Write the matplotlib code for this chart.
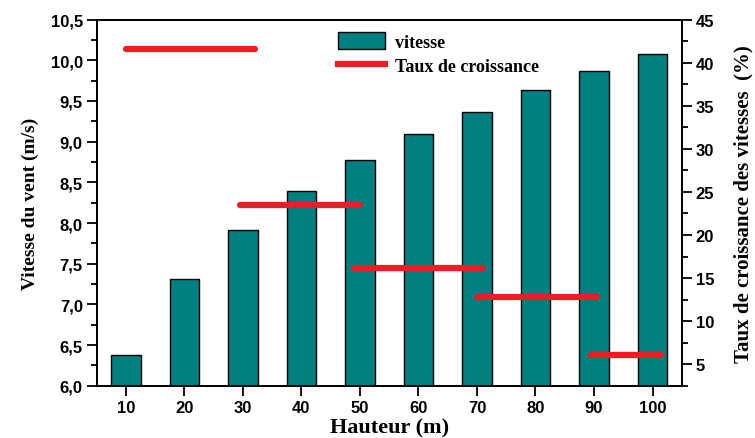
import matplotlib
matplotlib.use("Agg")
import matplotlib.pyplot as plt
from matplotlib.ticker import MultipleLocator, FuncFormatter
from matplotlib.patches import Patch
from matplotlib.lines import Line2D
from matplotlib.font_manager import FontProperties

# Wind speed by height
heights = [10, 20, 30, 40, 50, 60, 70, 80, 90, 100]
speeds = [6.38, 7.31, 7.92, 8.39, 8.77, 9.10, 9.37, 9.64, 9.87, 10.08]

# Growth rate of speed between height ranges (%)
growth_rates = [41.6, 23.5, 16.2, 12.8, 6.1]
range_start = [10, 29.5, 49, 70, 89.5]
range_end = [32, 50, 71, 90.5, 101.5]

teal = "#008080"
red = "#ee1c24"
tick_font = FontProperties(family="Liberation Sans", weight="bold", size=12)
serif_bold = dict(family="Liberation Serif", weight="bold")

fig = plt.figure(figsize=(7.55, 4.39), dpi=100)
ax = fig.add_axes([0.128, 0.119, 0.775, 0.834])
ax2 = ax.twinx()

ax.bar(heights, speeds, width=5, color=teal, edgecolor="black", linewidth=1.0, zorder=2)
ax.set_xlim(5, 105)
ax.set_ylim(6.0, 10.5)
ax.set_xticks(heights)
ax.yaxis.set_major_locator(MultipleLocator(0.5))
ax.yaxis.set_minor_locator(MultipleLocator(0.25))
ax.yaxis.set_major_formatter(FuncFormatter(lambda v, p: f"{v:.1f}".replace(".", ",")))

for y, x0, x1 in zip(growth_rates, range_start, range_end):
    ax2.plot([x0, x1], [y, y], color=red, linewidth=4.5, solid_capstyle="round", zorder=3)
ax2.set_ylim(2.5, 45)
ax2.yaxis.set_major_locator(MultipleLocator(5))
ax2.yaxis.set_minor_locator(MultipleLocator(2.5))

for a in (ax, ax2):
    for s in a.spines.values():
        s.set_linewidth(1.3)
    a.tick_params(axis="both", which="major", direction="out", length=7, width=1.3, pad=3)
    a.tick_params(axis="both", which="minor", direction="out", length=4, width=1.3)
    for lab in a.get_xticklabels() + a.get_yticklabels():
        lab.set_fontproperties(tick_font)
ax.tick_params(axis="x", which="minor", bottom=False)

ax.set_xlabel("Hauteur (m)", fontsize=16, labelpad=2, **serif_bold)
ax.set_ylabel("Vitesse du vent (m/s)", fontsize=14, labelpad=8, **serif_bold)
ax2.set_ylabel("Taux de croissance des vitesses  (%)", fontsize=15, labelpad=14, **serif_bold)

handles = [Patch(facecolor=teal, edgecolor="black", linewidth=1.0),
           Line2D([0], [0], color=red, linewidth=4.5)]
ax2.legend(handles, ["vitesse", "Taux de croissance"], loc="upper left",
           bbox_to_anchor=(0.412, 0.965), frameon=False,
           prop=dict(family="Liberation Serif", weight="bold", size=13),
           handlelength=2.6, handleheight=1.05, handletextpad=0.6,
           labelspacing=0.3, borderpad=0, borderaxespad=0)

fig.savefig("out.png", dpi=100)
